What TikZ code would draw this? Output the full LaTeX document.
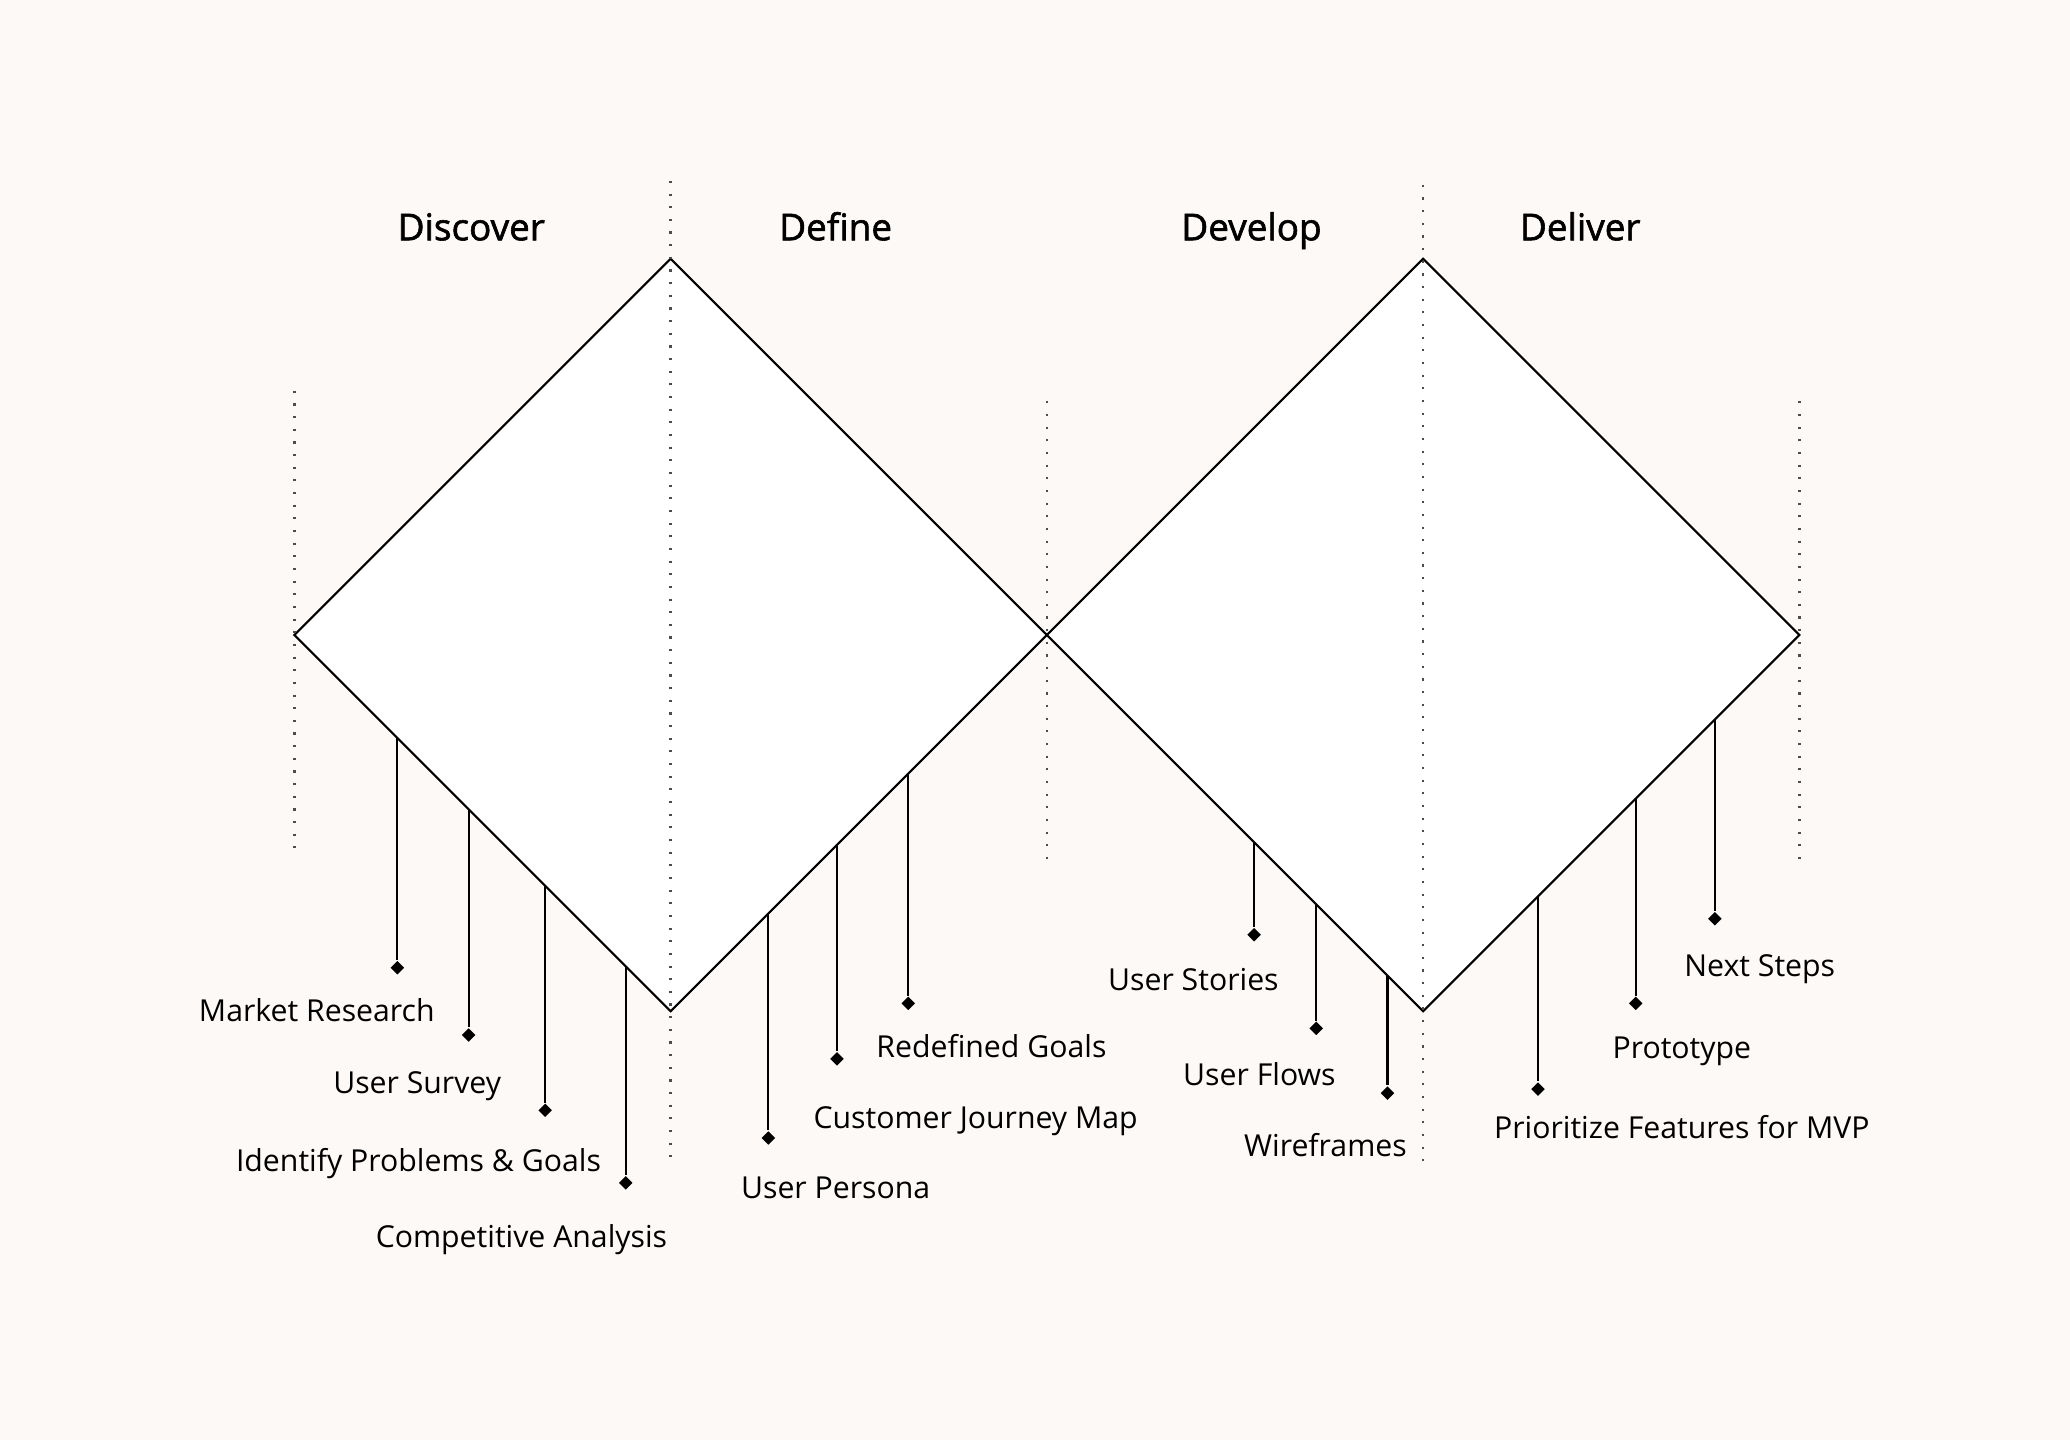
\documentclass[tikz,border=0pt]{standalone}
\usepackage{fontspec}
\setmainfont{Open Sans}
\newfontfamily\headfont{Open Sans}[FakeBold=1.6]
\usetikzlibrary{shapes.geometric}
\definecolor{bg}{HTML}{FDF9F6}
\begin{document}
\begin{tikzpicture}[x=0.0132cm,y=-0.0132cm,
  dia/.style={draw=black,line width=0.6pt,fill=white},
  guide/.style={draw=black!70,line width=0.7pt,dash pattern=on 0.6pt off 3pt},
  stem/.style={draw=black,line width=0.6pt},
  dot/.style={diamond,fill=black,inner sep=0pt,minimum size=4pt},
  head/.style={font=\headfont\fontsize{10.5}{13}\selectfont,anchor=base},
  lab/.style={font=\fontsize{8.6}{10}\selectfont}]
\fill[bg] (0,0) rectangle (1568,1091);
\useasboundingbox (0,0) rectangle (1568,1091);
\draw[dia] (508,196) -- (793,481) -- (508,766) -- (223,481) -- cycle;
\draw[dia] (1078,196) -- (1363,481) -- (1078,766) -- (793,481) -- cycle;
\foreach \x/\a/\b in {223/296/650,508/137/880,793/304/657,1078/140/882,1363/304/657}
  \draw[guide] (\x,\a) -- (\x,\b);
\node[head] (h1) at (357,182) {Discover};
\node[head] (h2) at (633,182) {Define};
\node[head] (h3) at (948,182) {Develop};
\node[head] (h4) at (1197,182) {Deliver};
\foreach \n/\x/\t/\b/\lx/\ly/\txt in {
  a/301/559/733/240/765/Market Research,
  b/355/613/784/316/823/User Survey,
  c/413/671/841/317/881/Identify Problems \& Goals,
  d/474/732/896/395/939/Competitive Analysis,
  e/582/692/862/633/900/User Persona,
  f/634/640/802/739/849/Customer Journey Map,
  g/688/586/760/751/792/Redefined Goals,
  h/950/638/708/904/742/User Stories,
  i/997/685/779/954/814/User Flows,
  j/1051/739/828/1004/867/Wireframes,
  k/1165/679/825/1274/854/Prioritize Features for MVP,
  l/1239/605/760/1274/796/Prototype,
  m/1299/545/696/1333/734/Next Steps}{
  \coordinate (t\n) at (\x,\t);
  \node[dot] (d\n) at (\x,\b) {};
  \draw[stem] (t\n) -- (d\n);
  \node[lab] (l\n) at (\lx,\ly) {\txt};
}
\end{tikzpicture}
\end{document}
